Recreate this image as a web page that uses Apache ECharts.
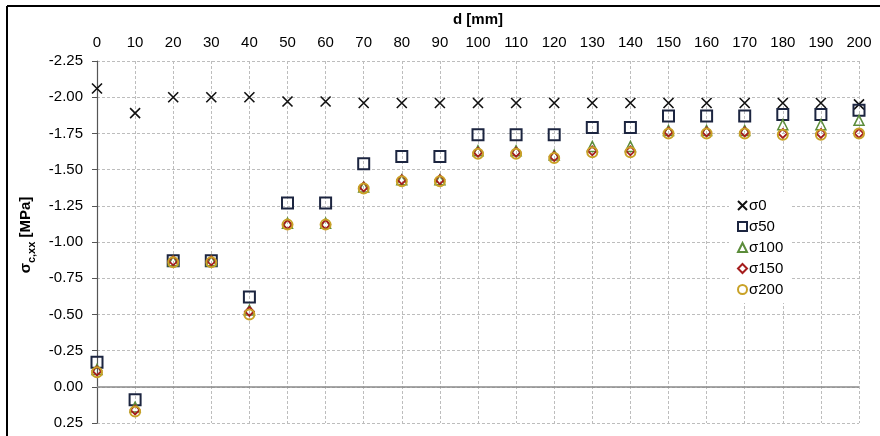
<!DOCTYPE html>
<html>
<head>
<meta charset="utf-8">
<script src="https://cdn.jsdelivr.net/npm/echarts@6/dist/echarts.min.js"></script>
<style>html,body{margin:0;padding:0;background:#fff}#c{width:880px;height:436px}</style>
</head>
<body>
<div id="c"></div>
<script>
const d = [0,10,20,30,40,50,60,70,80,90,100,110,120,130,140,150,160,170,180,190,200];
const s0   = [-2.06,-1.89,-2.00,-2.00,-2.00,-1.97,-1.97,-1.96,-1.96,-1.96,-1.96,-1.96,-1.96,-1.96,-1.96,-1.96,-1.96,-1.96,-1.96,-1.96,-1.95];
const s50  = [-0.17,0.09,-0.87,-0.87,-0.62,-1.27,-1.27,-1.54,-1.59,-1.59,-1.74,-1.74,-1.74,-1.79,-1.79,-1.87,-1.87,-1.87,-1.88,-1.88,-1.91];
const s100 = [-0.12,0.14,-0.87,-0.87,-0.53,-1.13,-1.13,-1.38,-1.43,-1.43,-1.63,-1.63,-1.60,-1.66,-1.66,-1.77,-1.77,-1.77,-1.81,-1.81,-1.84];
const s150 = [-0.11,0.16,-0.87,-0.87,-0.52,-1.12,-1.12,-1.38,-1.43,-1.43,-1.62,-1.62,-1.59,-1.63,-1.63,-1.76,-1.76,-1.76,-1.75,-1.75,-1.75];
const s200 = [-0.10,0.17,-0.86,-0.86,-0.50,-1.12,-1.12,-1.37,-1.42,-1.42,-1.61,-1.61,-1.58,-1.62,-1.62,-1.75,-1.75,-1.75,-1.74,-1.74,-1.75];
const names = ['σ0','σ50','σ100','σ150','σ200'];
const yTicks = {min:-2.25, max:0.25, step:0.25};
const xTicks = {min:0, max:200, step:10};

const pair = arr => d.map((x,i)=>[x,arr[i]]);
const FONT = 'Liberation Sans';
const chart = echarts.init(document.getElementById('c'));
const styles = [
  {symbol:'path://M0,0L10,10M10,0L0,10', size:10, color:'#111', bw:1.6},
  {symbol:'rect', size:11, color:'#1c2540', bw:2},
  {symbol:'triangle', size:10, color:'#5b8c3a', bw:1.5},
  {symbol:'diamond', size:9, color:'#a51d1d', bw:1.8},
  {symbol:'circle', size:10, color:'#c9a227', bw:2}
];
const datas = [s0,s50,s100,s150,s200];
const series = datas.map((arr,i)=>({
  name:names[i], type:'scatter', data:pair(arr),
  symbol:styles[i].symbol, symbolSize:styles[i].size,
  itemStyle:{color:'rgba(255,255,255,0)', borderColor:styles[i].color, borderWidth:styles[i].bw, opacity:1},
  z: 3+i
}));
series[0].markLine = {silent:true, symbol:'none', label:{show:false},
  lineStyle:{color:'#8a8a8a', type:'solid', width:1.5}, data:[{yAxis:0}], z:1};

chart.setOption({
  animation:false,
  backgroundColor:'#fff',
  textStyle:{fontFamily:FONT},
  grid:{left:97, right:21, top:61, bottom:13},
  xAxis:{type:'value', position:'top', min:xTicks.min, max:xTicks.max, interval:xTicks.step,
    name:'d [mm]', nameLocation:'middle', nameGap:34,
    nameTextStyle:{fontFamily:FONT, fontSize:15, fontWeight:'bold', color:'#000'},
    axisLine:{show:false}, axisTick:{show:false},
    axisLabel:{fontFamily:FONT, fontSize:15, color:'#000', margin:11},
    splitLine:{show:true, lineStyle:{color:'#bdbdbd', type:[3,2], width:1}}},
  yAxis:{type:'value', inverse:true, min:yTicks.min, max:yTicks.max, interval:yTicks.step,
    name:'{a|σ}{b|c,xx}{a| [MPa]}', nameLocation:'middle', nameGap:52, nameRotate:90,
    nameTextStyle:{padding:[0,0,0,14], rich:{a:{fontFamily:FONT, fontSize:15, fontWeight:'bold', color:'#000'},
                         b:{fontFamily:FONT, fontSize:11, fontWeight:'bold', color:'#000', verticalAlign:'bottom', padding:[0,0,-5,0]}}},
    axisLine:{show:true, lineStyle:{color:'#555', width:1.2}},
    axisTick:{show:true, inside:false, length:5, lineStyle:{color:'#555'}},
    axisLabel:{fontFamily:FONT, fontSize:15, color:'#000', margin:14, formatter:v=>v.toFixed(2)},
    splitLine:{show:true, lineStyle:{color:'#bdbdbd', type:[3,2], width:1}}},
  legend:{orient:'vertical', left:729, top:192, padding:[6,8,6,8], itemGap:6,
    itemWidth:9, itemHeight:9, backgroundColor:'#fff',
    textStyle:{fontFamily:FONT, fontSize:15, color:'#000', padding:[0,0,0,-3]},
    data:names},
  graphic:[
    {type:'line', shape:{x1:7,y1:6,x2:880,y2:6}, style:{stroke:'#000', lineWidth:2}},
    {type:'line', shape:{x1:7,y1:6,x2:7,y2:436}, style:{stroke:'#000', lineWidth:2}}
  ],
  series:series
});
</script>
</body>
</html>
